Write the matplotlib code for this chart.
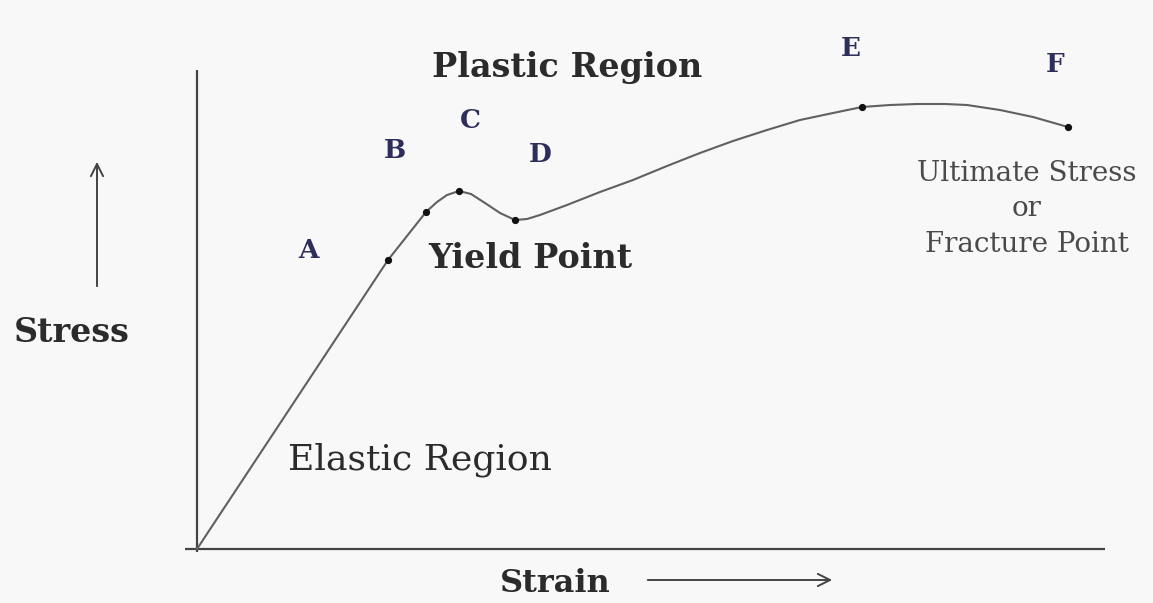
import matplotlib
matplotlib.use("Agg")
import matplotlib.pyplot as plt

# Stress-strain curve, traced key points plus shape points (arbitrary units)
strain = [0.0, 19.1, 22.9, 24.0, 25.0, 26.2, 27.4, 28.8, 30.3, 31.8, 33.0, 34.3,
          37.0, 40.3, 43.6, 47.0, 50.3, 53.6, 57.0, 60.3, 63.6, 66.5, 69.3, 72.0,
          74.8, 77.0, 80.3, 83.6, 87.1]
stress = [0.0, 28.9, 33.7, 34.7, 35.4, 35.8, 35.5, 34.6, 33.6, 32.9, 33.0, 33.4,
          34.4, 35.7, 36.9, 38.3, 39.6, 40.8, 41.9, 42.9, 43.6, 44.2, 44.4, 44.5,
          44.5, 44.4, 43.9, 43.2, 42.2]

# Labelled points on the curve
point_names = ["A", "B", "C", "D", "E", "F"]
point_strain = [19.1, 22.9, 26.2, 31.8, 66.5, 87.1]
point_stress = [28.9, 33.7, 35.8, 32.9, 44.2, 42.2]

region_labels = ["Plastic Region", "Elastic Region", "Yield Point"]
fracture_label = "Ultimate Stress\nor\nFracture Point"
x_label = "Strain"
y_label = "Stress"

serif = ["DejaVu Serif"]
ink = "#2b2b2b"
letter_ink = "#2e2e5c"

fig = plt.figure(figsize=(11.53, 6.03), dpi=100, facecolor="#f8f8f8")
ax = fig.add_axes([0, 0, 1, 1])
ax.set_facecolor("#f8f8f8")
ax.set_xlim(-19.7, 95.6)
ax.set_ylim(-5.4, 54.9)
ax.axis("off")

# Axes lines
ax.plot([0, 0], [-0.3, 47.9], color="#444444", lw=1.6, solid_capstyle="butt")
ax.plot([-1.2, 90.8], [0, 0], color="#444444", lw=1.6, solid_capstyle="butt")

# Curve and points
ax.plot(strain, stress, color="#606060", lw=1.5, solid_joinstyle="round")
ax.plot(point_strain, point_stress, "o", color="#111111", ms=4.2, zorder=3)

# Point letters
letter_pos = {"A": (11.1, 29.9), "B": (19.8, 39.9), "C": (27.3, 42.8),
              "D": (34.3, 39.5), "E": (65.4, 50.0), "F": (85.8, 48.4)}
for name in point_names:
    lx, ly = letter_pos[name]
    ax.text(lx, ly, name, family=serif, fontsize=19, fontweight="bold",
            color=letter_ink, ha="center", va="center")

ax.text(37.0, 48.1, region_labels[0], family=serif, fontsize=24, fontweight="bold",
        color=ink, ha="center", va="center")
ax.text(22.3, 8.9, region_labels[1], family=serif, fontsize=26, color=ink,
        ha="center", va="center")
ax.text(33.3, 29.1, region_labels[2], family=serif, fontsize=24, fontweight="bold",
        color=ink, ha="center", va="center")
ax.text(83.0, 34.0, fracture_label, family=serif, fontsize=20, color="#4a4a4a",
        ha="center", va="center", linespacing=1.4)

# Axis captions with direction arrows
ax.text(-12.5, 21.7, y_label, family=serif, fontsize=24, fontweight="bold",
        color=ink, ha="center", va="center")
ax.text(35.8, -3.4, x_label, family=serif, fontsize=23, fontweight="bold",
        color=ink, ha="center", va="center")
arrow = dict(arrowstyle="->", color="#444444", lw=1.4, mutation_scale=22)
ax.annotate("", xy=(-10.0, 39.0), xytext=(-10.0, 26.0), arrowprops=arrow)
ax.annotate("", xy=(63.8, -3.1), xytext=(44.8, -3.1), arrowprops=arrow)

fig.savefig("out.png", dpi=100, facecolor=fig.get_facecolor())
